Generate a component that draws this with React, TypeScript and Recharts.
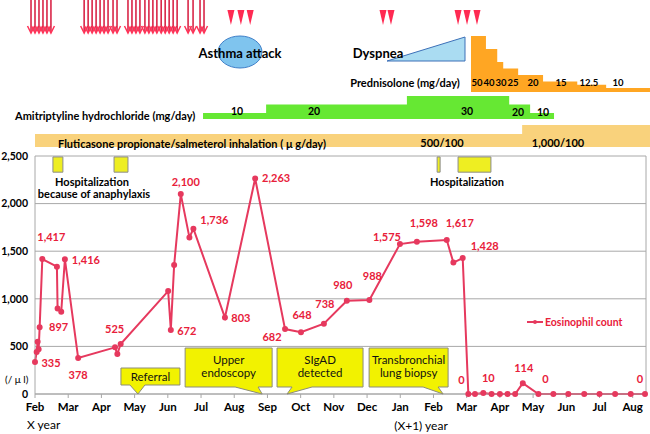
import React from 'react';
import {
  ComposedChart, Line, Area, Scatter, XAxis, YAxis, CartesianGrid,
  ReferenceArea, ReferenceDot, ReferenceLine, LabelList,
} from 'recharts';

const W = 650;
const H = 434;
const PLOT_LEFT = 35;
const PLOT_RIGHT = 646;
const PLOT_TOP = 156;
const X_MAX = 18.4;
const PX_PER_MONTH = (PLOT_RIGHT - PLOT_LEFT) / X_MAX;
// the strip charts above the plot use the whole width, so their domain runs past the axes
const BAND_DOMAIN: [number, number] = [-PLOT_LEFT / PX_PER_MONTH, (W - PLOT_LEFT) / PX_PER_MONTH];
const FONT = 'Lato, "Noto Sans", sans-serif';
const RED = '#E8203A';
const LINE = '#E6395E';
const GRID = '#A8A8A8';

// x axis is in months, 0 = Feb of year X
const monthNames = ['Feb', 'Mar', 'Apr', 'May', 'Jun', 'Jul', 'Aug', 'Sep', 'Oct', 'Nov', 'Dec', 'Jan', 'Feb', 'Mar', 'Apr', 'May', 'Jun', 'Jul', 'Aug'];
const yTicks = [0, 500, 1000, 1500, 2000, 2500];

// eosinophil count (/ul)
const eosMonth = [0, 0.05, 0.08, 0.11, 0.14, 0.22, 0.66, 0.68, 0.79, 0.9, 1.3, 2.41, 2.48, 2.58, 4.01, 4.09, 4.19, 4.39, 4.65, 4.77, 5.72, 6.63, 7.53, 8.01, 8.7, 9.39, 10.07, 10.99, 11.5, 12.4, 12.6, 12.88, 13.05, 13.25, 13.5, 13.75, 14.0, 14.23, 14.46, 14.69, 15.16, 15.61, 16.06, 16.54, 17.0, 17.47, 17.94, 18.37];
const eosCount = [335, 440, 550, 470, 700, 1417, 1337, 897, 864, 1416, 378, 490, 420, 525, 1081, 672, 1354, 2100, 1645, 1736, 803, 2263, 682, 648, 738, 980, 988, 1575, 1598, 1617, 1380, 1428, 0, 0, 10, 0, 0, 0, 0, 114, 0, 0, 0, 0, 0, 0, 0, 0];
// points that carry a value label, and where the label sits relative to the point
const eosLabelIdx = [0, 5, 7, 9, 10, 13, 15, 17, 19, 20, 21, 22, 23, 24, 25, 26, 27, 28, 29, 31, 32, 34, 39, 40, 47];
const eosLabelOffset = [[16, 1], [9, -22], [1, 19], [21, 1], [0, 17], [-6, -15], [16, 1], [5, -12], [21, -9], [16, 1], [21, 0], [-13, 8], [1, -17], [1, -20], [-4, -16], [3, -24], [-13, -7], [7, -19], [13, -17], [22, -12], [-7, -14], [5, -15], [1, -15], [7, -15], [-5, -15]];

// drugs: dose steps (month, mg/day or ug/day)
const predMonth = [13.13, 13.58, 13.92, 14.1, 14.55, 15.3, 16.33, 17.2, 18.52];
const predDose = [50, 40, 30, 25, 20, 15, 12.5, 10, 10];
const amiMonth = [5.06, 6.96, 11.2, 14.28, 14.91, 15.63];
const amiDose = [10, 20, 30, 20, 10, 10];
const fluMonth = [0, 14.67, 18.52];
const fluDose = [500, 1000, 1000];

// events
const arrowMonth = [-0.12, 0, 0.12, 0.24, 0.36, 0.48, 1.48, 1.6, 1.72, 1.84, 1.96, 2.08, 2.2, 2.35, 2.47, 2.8, 2.92, 3.04, 3.16, 3.31, 3.43, 3.55, 3.67, 3.8, 3.92, 4.04, 4.16, 4.28, 4.61, 4.76, 4.97, 5.09];
const attackMonth = [5.9, 6.2, 6.48, 10.48, 10.72, 12.74, 13.01, 13.31];
const hospitalStart = [0.54, 2.38, 12.11, 12.74];
const hospitalEnd = [0.84, 2.8, 12.2, 13.73];
const calloutMonth = [3.1, 6.84, 7.59, 12.29];
const calloutText = [['Referral'], ['Upper', 'endoscopy'], ['SIgAD', 'detected'], ['Transbronchial', 'lung biopsy']];
// left, right, top, bottom of the box and pointer base, relative to the pointer tip
const calloutBox = [[-17, 42, -26, -9, -8, 7], [-77, 10, -46, -7, -27, -4], [-10, 76, -46, -7, 5, 25], [-74, 5, -46, -7, -20, -5]];

const eosData = eosMonth.map((m, i) => ({ m, count: eosCount[i] }));
const predData = predMonth.map((m, i) => ({ m, v: predDose[i] }));
const amiData = amiMonth.map((m, i) => ({ m, v: amiDose[i] }));
const fluData = fluMonth.map((m, i) => ({ m, v: fluDose[i] }));
const arrowData = arrowMonth.map((m) => ({ m, row: 0.5 }));
const attackData = attackMonth.map((m) => ({ m, row: 0.5 }));

const EosLabel = (props: any) => {
  const x = props.x ?? props.viewBox?.x;
  const y = props.y ?? props.viewBox?.y;
  const k = eosLabelIdx.indexOf(props.index);
  if (k < 0 || x == null) return null;
  const [dx, dy] = eosLabelOffset[k];
  return (
    <text x={x + dx} y={y + dy} dy="0.35em" textAnchor="middle" fill={RED} fontSize={11} fontWeight={700} fontFamily={FONT}>
      {Number(props.value).toLocaleString('en-US')}
    </text>
  );
};

const DownArrow = ({ cx, cy }: any) => (
  <g>
    <line x1={cx} y1={cy - 20} x2={cx} y2={cy + 12} stroke="#D92648" strokeWidth={1.6} />
    <path d={`M${cx - 3.5},${cy + 6} L${cx},${cy + 13} L${cx + 3.5},${cy + 6}`} fill="none" stroke="#FF3358" strokeWidth={1.5} />
  </g>
);

const AttackMark = ({ cx, cy }: any) => (
  <path d={`M${cx - 3.5},${cy - 10} L${cx + 3.5},${cy - 10} L${cx},${cy + 5} Z`} fill="#FF2A52" />
);

const makeCallout = (k: number) => ({ cx, cy }: any) => {
  const [l, r, t, b, p1, p2] = calloutBox[k];
  const lines = calloutText[k];
  const mid = cx + (l + r) / 2;
  const d = `M${cx + l},${cy + t} H${cx + r} V${cy + b} H${cx + p2} L${cx},${cy} L${cx + p1},${cy + b} H${cx + l} Z`;
  return (
    <g>
      <path d={d} fill="#F2F200" stroke="#8C8C7A" strokeWidth={1} />
      {lines.map((s, i) => (
        <text key={s} x={mid} y={lines.length === 1 ? cy + (t + b) / 2 : cy + t + 12 + i * 13} dy="0.35em" textAnchor="middle" fontSize={11.5} fontFamily={FONT} fill="#111">
          {s}
        </text>
      ))}
    </g>
  );
};

function Band({ top, height, data, domain, color }: { top: number; height: number; data: any[]; domain: [number, number]; color: string }) {
  return (
    <div style={{ position: 'absolute', left: 0, top }}>
      <ComposedChart width={W} height={height} data={data} margin={{ top: 0, right: 0, bottom: 0, left: 0 }}>
        <XAxis type="number" dataKey="m" domain={BAND_DOMAIN} allowDataOverflow hide />
        <YAxis type="number" domain={domain} allowDataOverflow hide />
        <Area type="stepAfter" dataKey="v" stroke="none" fill={color} fillOpacity={1} baseValue="dataMin" isAnimationActive={false} />
      </ComposedChart>
    </div>
  );
}

const predLabelX = [477, 489, 501, 513, 533, 561, 589, 618];
const amiLabelPos = [[237, 111], [314, 111], [467, 111], [518, 112], [543, 112]];

export default function App() {
  return (
    <div style={{ position: 'absolute', left: 0, top: 0, width: W, height: H, background: '#fff', fontFamily: FONT }}>
      <ComposedChart width={W} height={H} data={eosData} margin={{ top: PLOT_TOP, right: W - PLOT_RIGHT, bottom: 0, left: 0 }}>
        <CartesianGrid vertical={false} stroke={GRID} />
        <XAxis
          type="number" dataKey="m" domain={[0, X_MAX]} ticks={monthNames.map((_, i) => i)} interval={0}
          tickFormatter={(v: number) => monthNames[v]} height={40} stroke={GRID} tickSize={4} tickMargin={5}
          tick={{ fill: '#000', fontWeight: 700, fontSize: 11.5, fontFamily: FONT }}
        />
        <YAxis
          type="number" domain={[0, 2500]} ticks={yTicks} width={PLOT_LEFT} stroke={GRID} tickLine={false}
          tickSize={0} tickMargin={7} tickFormatter={(v: number) => v.toLocaleString('en-US')}
          tick={{ fill: '#000', fontWeight: 700, fontSize: 10.5, fontFamily: FONT }}
        />
        <ReferenceLine x={X_MAX} stroke={GRID} />
        {hospitalStart.map((s, i) => (
          <ReferenceArea key={i} x1={s} x2={hospitalEnd[i]} y1={2330} y2={2490} fill="#EEEE22" fillOpacity={1} stroke="#8C8C8C" strokeWidth={1} />
        ))}
        {calloutMonth.map((m, k) => (
          <ReferenceDot key={k} x={m} y={0} r={0} shape={makeCallout(k)} />
        ))}
        <Line type="linear" dataKey="count" stroke={LINE} strokeWidth={2} dot={{ r: 2, fill: LINE, stroke: LINE }} isAnimationActive={false}>
          <LabelList dataKey="count" content={EosLabel} />
        </Line>
      </ComposedChart>

      <Band top={36} height={56} data={predData} domain={[7, 50]} color="#FFA623" />
      <Band top={96} height={23} data={amiData} domain={[3, 30]} color="#66E833" />
      <Band top={125} height={22} data={fluData} domain={[-222, 1000]} color="#F9D27C" />

      <div style={{ position: 'absolute', left: 0, top: 0 }}>
        <ComposedChart width={W} height={40} margin={{ top: 0, right: 0, bottom: 0, left: 0 }}>
          <XAxis type="number" dataKey="m" domain={BAND_DOMAIN} allowDataOverflow hide />
          <YAxis type="number" dataKey="row" domain={[0, 1]} allowDataOverflow hide />
          <Scatter data={arrowData} shape={DownArrow} isAnimationActive={false} />
          <Scatter data={attackData} shape={AttackMark} isAnimationActive={false} />
        </ComposedChart>
      </div>

      <svg width={W} height={H} style={{ position: 'absolute', left: 0, top: 0, pointerEvents: 'none' }} fontFamily={FONT}>
        <ellipse cx={240} cy={52} rx={22} ry={16} fill="#7FC4EE" stroke="#3F7FC8" />
        <text x={240} y={53} dy="0.35em" textAnchor="middle" fontWeight={700} fontSize={13}>Asthma attack</text>
        <polygon points="387,61 465,37 465,61" fill="#AADCF2" stroke="#3C70B8" />
        <text x={378} y={53} dy="0.35em" textAnchor="middle" fontWeight={700} fontSize={13}>Dyspnea</text>

        <text x={405} y={83} dy="0.35em" textAnchor="middle" fontWeight={700} fontSize={11}>Prednisolone (mg/day)</text>
        {predDose.slice(0, predLabelX.length).map((d, i) => (
          <text key={i} x={predLabelX[i]} y={83} dy="0.35em" textAnchor="middle" fontWeight={700} fontSize={9.5}>{d}</text>
        ))}

        <text x={15} y={116} dy="0.35em" fontWeight={700} fontSize={11}>Amitriptyline hydrochloride (mg/day)</text>
        {amiDose.slice(0, amiLabelPos.length).map((d, i) => (
          <text key={i} x={amiLabelPos[i][0]} y={amiLabelPos[i][1]} dy="0.35em" textAnchor="middle" fontWeight={700} fontSize={10.5}>{d}</text>
        ))}

        <text x={58} y={144} dy="0.35em" fontWeight={700} fontSize={11}>Fluticasone propionate/salmeterol inhalation ( μ g/day)</text>
        <text x={442} y={143} dy="0.35em" textAnchor="middle" fontWeight={700} fontSize={11}>500/100</text>
        <text x={558} y={143} dy="0.35em" textAnchor="middle" fontWeight={700} fontSize={11}>1,000/100</text>

        <text x={92} y={182} dy="0.35em" textAnchor="middle" fontWeight={700} fontSize={11}>Hospitalization</text>
        <text x={94} y={194} dy="0.35em" textAnchor="middle" fontWeight={700} fontSize={11}>because of anaphylaxis</text>
        <text x={467} y={182} dy="0.35em" textAnchor="middle" fontWeight={700} fontSize={11}>Hospitalization</text>

        <text x={5} y={379} dy="0.35em" fontSize={10}>(/ μ l)</text>
        <text x={27} y={425} dy="0.35em" fontSize={12}>X year</text>
        <text x={421} y={426} dy="0.35em" textAnchor="middle" fontSize={12}>(X+1) year</text>

        <line x1={527} y1={322} x2={543} y2={322} stroke={LINE} strokeWidth={2} />
        <circle cx={535} cy={322} r={2} fill={LINE} />
        <text x={545} y={322} dy="0.35em" fontWeight={700} fontSize={10.5} fill={RED}>Eosinophil count</text>
      </svg>
    </div>
  );
}
